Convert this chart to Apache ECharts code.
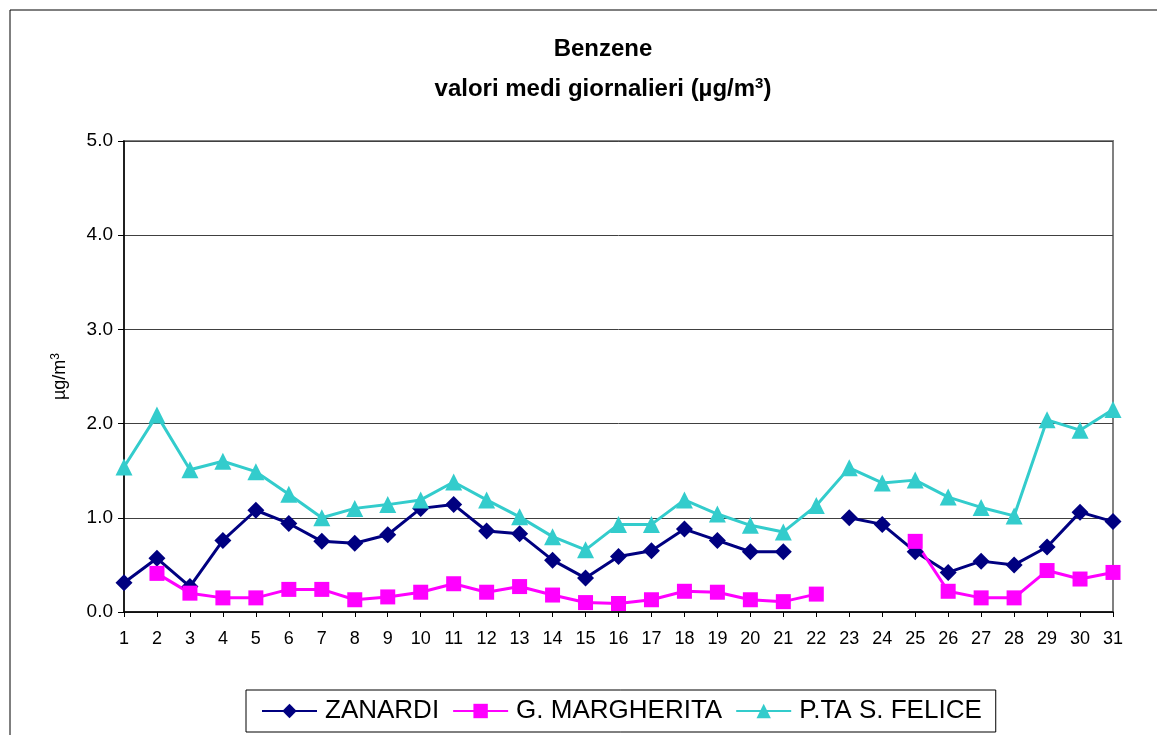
<!DOCTYPE html>
<html>
<head>
<meta charset="utf-8">
<script src="https://cdn.jsdelivr.net/npm/echarts@6/dist/echarts.min.js"></script>
<style>
  html, body { margin: 0; padding: 0; background: #fff; }
  #chart { width: 1157px; height: 735px; }
</style>
</head>
<body>
<div id="chart"></div>
<script>
// giorni del mese
const days = ['1','2','3','4','5','6','7','8','9','10','11','12','13','14','15','16','17','18','19','20','21','22','23','24','25','26','27','28','29','30','31'];
// valori medi giornalieri (µg/m3)
const zanardi = [0.31, 0.57, 0.27, 0.76, 1.08, 0.94, 0.75, 0.73, 0.82, 1.10, 1.14, 0.86, 0.83, 0.55, 0.36, 0.59, 0.65, 0.88, 0.76, 0.64, 0.64, null, 1.00, 0.93, 0.64, 0.42, 0.54, 0.50, 0.69, 1.06, 0.96];
const margherita = [null, 0.41, 0.20, 0.15, 0.15, 0.24, 0.24, 0.13, 0.16, 0.21, 0.30, 0.21, 0.27, 0.18, 0.10, 0.09, 0.13, 0.22, 0.21, 0.13, 0.11, 0.19, null, null, 0.75, 0.22, 0.15, 0.15, 0.44, 0.35, 0.42];
const sFelice = [1.54, 2.09, 1.51, 1.60, 1.49, 1.25, 1.00, 1.10, 1.14, 1.19, 1.38, 1.19, 1.01, 0.80, 0.66, 0.93, 0.93, 1.19, 1.04, 0.92, 0.85, 1.13, 1.53, 1.37, 1.40, 1.22, 1.11, 1.02, 2.04, 1.93, 2.15];

const font = 'Liberation Sans, Arial, sans-serif';

const myChart = echarts.init(document.getElementById('chart'));
const option = {
  animation: false,
  textStyle: { fontFamily: font },
  graphic: [{
    type: 'rect',
    shape: { x: 10, y: 10, width: 1170, height: 760 },
    style: { fill: 'none', stroke: '#000', lineWidth: 1 }
  }],
  title: {
    left: 598,
    top: 32,
    textAlign: 'center',
    itemGap: 15,
    text: 'Benzene',
    textStyle: { fontSize: 24, fontWeight: 'bold', color: '#000', lineHeight: 24, fontFamily: font },
    subtext: '{b|valori medi giornalieri (µg/m}{s|3}{b|)}',
    subtextStyle: {
      rich: {
        b: { fontSize: 24, fontWeight: 'bold', color: '#000', lineHeight: 26, fontFamily: font },
        s: { fontSize: 15, fontWeight: 'bold', color: '#000', lineHeight: 26, verticalAlign: 'top', fontFamily: font }
      }
    }
  },
  legend: {
    left: 246,
    top: 690,
    padding: [8, 14, 8, 15],
    borderColor: '#000',
    borderWidth: 1,
    itemWidth: 55,
    itemHeight: 18,
    itemGap: 13,
    textStyle: { fontSize: 26, color: '#000', fontFamily: font, padding: [0, 0, 0, 3] },
    data: ['ZANARDI', 'G. MARGHERITA', 'P.TA S. FELICE']
  },
  grid: {
    left: 124,
    right: 44,
    top: 141,
    bottom: 123,
    show: true,
    borderColor: '#808080',
    borderWidth: 2,
    containLabel: false
  },
  xAxis: {
    type: 'category',
    data: days,
    boundaryGap: false,
    axisLine: { lineStyle: { color: '#000', width: 1.5 } },
    axisTick: { show: true, length: 5, lineStyle: { color: '#000' }, interval: 0 },
    axisLabel: { fontSize: 18, color: '#000', margin: 18, interval: 0 },
    splitLine: { show: false }
  },
  yAxis: {
    type: 'value',
    min: 0,
    max: 5,
    interval: 1,
    name: '{a|µg/m}{s|3}',
    nameLocation: 'middle',
    nameGap: 54,
    nameRotate: 90,
    nameTextStyle: {
      rich: {
        a: { fontSize: 18, color: '#000', lineHeight: 20, fontFamily: font },
        s: { fontSize: 12, color: '#000', lineHeight: 20, verticalAlign: 'top', fontFamily: font }
      }
    },
    axisLine: { show: true, lineStyle: { color: '#000', width: 1.5 } },
    axisTick: { show: true, length: 6, lineStyle: { color: '#000' } },
    axisLabel: {
      fontSize: 19,
      color: '#000',
      margin: 11,
      formatter: function (v) { return v.toFixed(1); }
    },
    splitLine: { show: true, lineStyle: { color: '#404040', width: 1 } }
  },
  series: [{
    name: 'ZANARDI',
    type: 'line',
    data: zanardi,
    connectNulls: false,
    symbol: 'diamond',
    symbolSize: 17,
    color: '#000080',
    lineStyle: { width: 3, color: '#000080' },
    itemStyle: { color: '#000080' }
  }, {
    name: 'G. MARGHERITA',
    type: 'line',
    data: margherita,
    connectNulls: false,
    symbol: 'rect',
    symbolSize: 15,
    color: '#FF00FF',
    lineStyle: { width: 3, color: '#FF00FF' },
    itemStyle: { color: '#FF00FF' }
  }, {
    name: 'P.TA S. FELICE',
    type: 'line',
    data: sFelice,
    connectNulls: false,
    symbol: 'triangle',
    symbolSize: 17,
    color: '#33CCCC',
    lineStyle: { width: 3, color: '#33CCCC' },
    itemStyle: { color: '#33CCCC' }
  }]
};
myChart.setOption(option);
</script>
</body>
</html>
